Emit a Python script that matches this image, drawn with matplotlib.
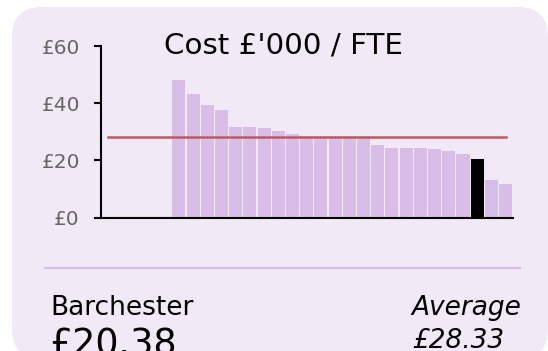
import numpy as np
import matplotlib
matplotlib.use("Agg")
import matplotlib.pyplot as plt
from matplotlib.patches import FancyBboxPatch

# Cost per full-time equivalent (£'000) by authority, sorted high to low;
# the first five authorities have no reported figure.
authorities = [
    "Allington", "Bishopsbury", "Courcy", "Dillsborough", "Eiderdown",
    "Framley", "Gatherum", "Greshamsbury", "Hogglestock", "Silverbridge",
    "Puddingdale", "Plumstead", "Crabtree", "Hiram", "Courcy Castle",
    "Guestwick", "Baxter", "Lufton", "Ullathorne", "Boxall Hill",
    "Dunstable", "Uffley", "Hartlebury", "Rufford", "Tankerville",
    "Percycross", "Barchester", "Loring", "Humblethwaite",
]
cost = [
    np.nan, np.nan, np.nan, np.nan, np.nan,
    48.0, 43.1, 39.3, 37.6, 31.7,
    31.7, 31.3, 30.4, 29.3, 28.6,
    28.5, 28.5, 28.4, 28.4, 25.4,
    24.5, 24.3, 24.3, 23.9, 23.2,
    22.3, 20.38, 13.1, 11.7,
]
highlight = "Barchester"
average = 28.33
y_ticks = [0, 20, 40, 60]
y_tick_labels = ["£0", "£20", "£40", "£60"]

W, H = 548, 351
card_col = "#f2e9f7"
bar_col = "#d9bde9"
avg_col = "#c4585a"

fig = plt.figure(figsize=(W / 100, H / 100), dpi=100)
fig.patch.set_facecolor("white")

# Background layer in pixel units for the card and the text blocks
bg = fig.add_axes([0, 0, 1, 1], zorder=0)
bg.set_xlim(0, W)
bg.set_ylim(H, 0)
bg.axis("off")
card = FancyBboxPatch((12, 7), 536, 351.6,
                      boxstyle="round,pad=0,rounding_size=30",
                      facecolor=card_col, edgecolor="none")
bg.add_patch(card)
bg.plot([44, 521], [267.7, 267.7], color=bar_col, lw=1.6, solid_capstyle="butt")

bg.text(283, 54, "Cost £'000 / FTE", ha="center", va="baseline",
        fontsize=21.2, color="black")
bg.text(50, 314.7, highlight, ha="left", va="baseline", fontsize=19, color="black")
bg.text(50, 356, f"£{cost[authorities.index(highlight)]:.2f}", ha="left",
        va="baseline", fontsize=26.3, color="black")
bg.text(411, 314.7, "Average", ha="left", va="baseline", fontsize=19,
        style="italic", color="black")
bg.text(412, 348, f"£{average:.2f}", ha="left", va="baseline", fontsize=19,
        style="italic", color="black")

# Bar chart
ax = fig.add_axes([100.7 / W, (H - 217.7) / H, 412 / W, (217.7 - 46) / H], zorder=1)
ax.patch.set_alpha(0)
x = np.arange(len(authorities))
colors = ["black" if a == highlight else bar_col for a in authorities]
ax.bar(x, cost, width=0.92, color=colors, edgecolor="none", zorder=2)
ax.plot([x[0], x[-1]], [average, average], color=avg_col, lw=1.8, zorder=3)

ax.set_xlim(-0.5, len(authorities) - 0.5)
ax.set_ylim(0, 60)
ax.set_xticks([])
ax.set_yticks(y_ticks)
ax.set_yticklabels(y_tick_labels)
ax.tick_params(axis="y", length=5, width=1.5, color="black", pad=10,
               labelsize=14.5, labelcolor="#666666")
for side in ("top", "right"):
    ax.spines[side].set_visible(False)
for side in ("left", "bottom"):
    ax.spines[side].set_linewidth(1.5)
    ax.spines[side].set_color("black")

fig.savefig("out.png", dpi=100, facecolor="white")
